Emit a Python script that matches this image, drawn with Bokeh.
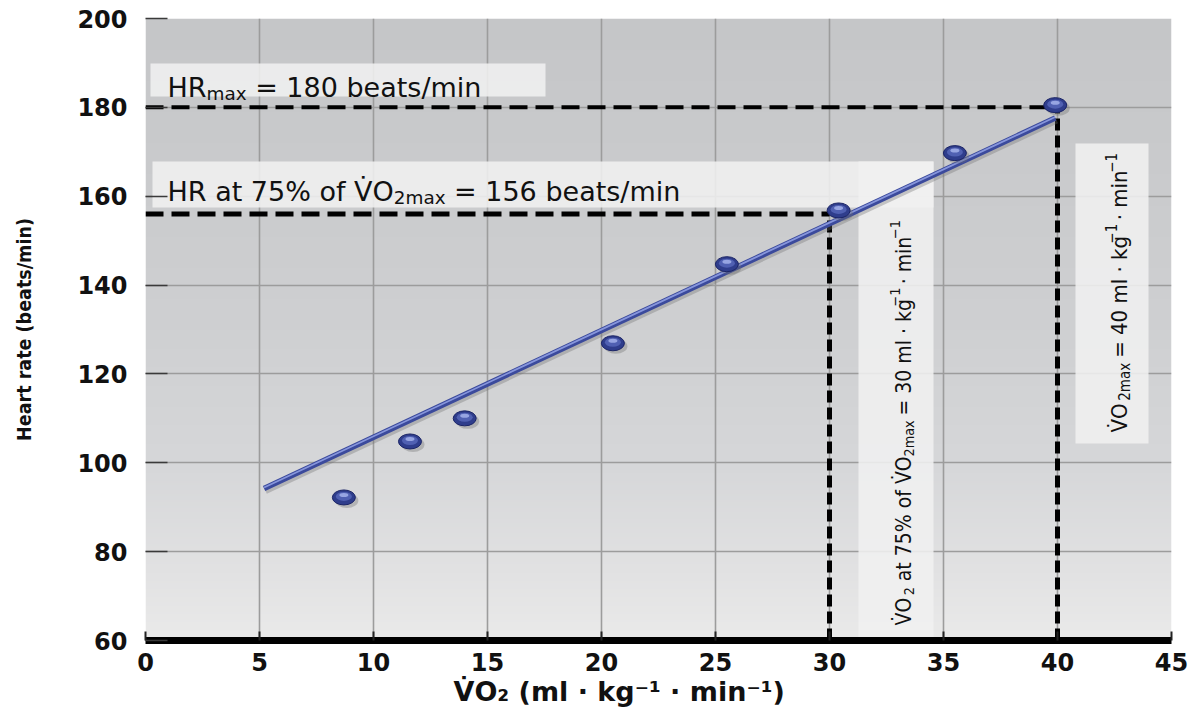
import numpy as np
from bokeh.plotting import figure
from bokeh.models import Range1d, FixedTicker, Label, Title
from bokeh.embed import file_html
from bokeh.resources import INLINE

# ---------------------------------------------------------------- data
vo2 = [8.7, 11.6, 14.0, 20.5, 25.5, 30.4, 35.5, 39.9]                  # ml·kg-1·min-1
heart_rate = [92.2, 104.8, 110.0, 126.9, 144.7, 156.8, 169.7, 180.5]   # beats/min
fit_vo2 = [5.2, 39.9]
fit_hr = [94.2, 177.6]
hr_max = 180
vo2_max = 40
hr_75 = 156
vo2_75 = 30
x_ticks = [0, 5, 10, 15, 20, 25, 30, 35, 40, 45]
y_ticks = [60, 80, 100, 120, 140, 160, 180, 200]

# ---------------------------------------------------------------- canvas geometry
W, H = 1197, 708
LEFT, RIGHT, TOP, BOTTOM = 145, 26, 18, 68
X0, X1 = x_ticks[0], x_ticks[-1]
Y0, Y1 = y_ticks[0], y_ticks[-1]
XS = (W - LEFT - RIGHT) / (X1 - X0)   # px per x unit
YS = (H - TOP - BOTTOM) / (Y1 - Y0)   # px per y unit


def dx(px):
    """canvas pixel column -> data x"""
    return X0 + (px - LEFT) / XS


def dy(py):
    """canvas pixel row (from top) -> data y"""
    return Y0 + (H - BOTTOM - py) / YS


INK = "#111111"
NB = "\u00a0"          # non-breaking space keeps edge spaces in svg text
COND = "'DejaVu Sans Condensed', 'Liberation Sans', sans-serif"

p = figure(width=W, height=H, x_range=Range1d(X0, X1), y_range=Range1d(Y0, Y1),
           min_border_left=LEFT, min_border_right=RIGHT,
           min_border_top=TOP, min_border_bottom=BOTTOM,
           output_backend="svg", toolbar_location=None)
p.outline_line_color = None
p.background_fill_color = "white"
p.border_fill_color = "white"

# ---------------------------------------------------------------- shaded backdrop
stop_y = [Y0, 75, 100, 130, Y1]
stop_rgb = [(234, 234, 234), (226, 226, 227), (214, 215, 217), (207, 208, 210), (197, 198, 200)]
rows = np.linspace(Y0, Y1, 300)
img = np.empty((rows.size, 1), dtype=np.uint32)
view = img.view(dtype=np.uint8).reshape((rows.size, 1, 4))
for k in range(3):
    view[:, 0, k] = np.interp(rows, stop_y, [c[k] for c in stop_rgb]).astype(np.uint8)
view[:, 0, 3] = 255
p.image_rgba(image=[img], x=X0, y=Y0, dw=X1 - X0, dh=Y1 - Y0, level="image")

# ---------------------------------------------------------------- grid and axes
p.xgrid.ticker = FixedTicker(ticks=x_ticks[1:-1])
p.ygrid.ticker = FixedTicker(ticks=y_ticks[1:-1])
for g in (p.xgrid, p.ygrid):
    g.grid_line_color = "#9c9c9c"
    g.grid_line_width = 1.6

xa = p.xaxis[0]
xa.ticker = FixedTicker(ticks=x_ticks)
xa.axis_line_color = "black"
xa.axis_line_width = 7
xa.major_tick_in = 9
xa.major_tick_out = 0
xa.major_tick_line_width = 2
xa.major_tick_line_color = "#222222"
xa.minor_tick_line_color = None
xa.major_label_standoff = 12

ya = p.yaxis[0]
ya.ticker = FixedTicker(ticks=y_ticks)
ya.axis_line_color = None
ya.major_tick_in = 22
ya.major_tick_out = 0
ya.major_tick_line_width = 1.5
ya.major_tick_line_color = "#3a3a3a"
ya.minor_tick_line_color = None
ya.major_label_standoff = 18
ya.axis_label = "Heart rate (beats/min)"
ya.axis_label_text_font = COND
ya.axis_label_text_font_size = "19.5px"
ya.axis_label_text_font_style = "bold"
ya.axis_label_text_color = INK
ya.axis_label_standoff = 38

for ax in (xa, ya):
    ax.major_label_text_font = "DejaVu Sans"
    ax.major_label_text_font_size = "24px"
    ax.major_label_text_font_style = "bold"
    ax.major_label_text_color = INK

# x-axis title with sub/superscripts, set off-centre to the left like the figure
xtitle = "V\u0307O\u2082 (ml · kg\u207b\u00b9 · min\u207b\u00b9)"
p.add_layout(Title(text=xtitle, align="left", offset=308, standoff=0,
                   text_font="DejaVu Sans", text_font_size="27px",
                   text_font_style="bold", text_color=INK), "below")

# ---------------------------------------------------------------- annotation panels
BOX = "#f0f0f0"
panels = [  # left, right, top, bottom in canvas pixels
    (150, 545, 63, 96),
    (152, 933, 161, 207),
    (858, 933, 161, H - BOTTOM),
    (1075, 1148, 143, 443),
]
p.quad(left=[dx(a) for a, b, c, d in panels], right=[dx(b) for a, b, c, d in panels],
       top=[dy(c) for a, b, c, d in panels], bottom=[dy(d) for a, b, c, d in panels],
       fill_color=BOX, fill_alpha=0.88, line_color=None)

# ---------------------------------------------------------------- reference lines
p.line([X0, vo2_max], [hr_max, hr_max], line_color="black", line_width=4, line_dash="18 8")
p.line([vo2_max, vo2_max], [Y0, hr_max], line_color="black", line_width=5, line_dash="12 5")
p.line([X0, vo2_75], [hr_75, hr_75], line_color="black", line_width=5, line_dash="18 8")
p.line([vo2_75, vo2_75], [Y0, hr_75], line_color="black", line_width=5, line_dash="12 5")

# ---------------------------------------------------------------- regression line (tube look)
p.line([v + 1.5 / XS for v in fit_vo2], [h - 2.5 / YS for h in fit_hr],
       line_color="#707070", line_alpha=0.35, line_width=6)
p.line(fit_vo2, fit_hr, line_color="#3b4a9c", line_width=5.5)
p.line(fit_vo2, [h + 1.0 / YS for h in fit_hr], line_color="#8796dc", line_width=1.8)

# ---------------------------------------------------------------- data points (shaded beads)
p.ellipse([v + 3 / XS for v in vo2], [h - 3 / YS for h in heart_rate],
          width=23, height=15, width_units="screen", height_units="screen",
          fill_color="#6e6e6e", fill_alpha=0.35, line_color=None)
p.ellipse(vo2, heart_rate, width=23, height=15, width_units="screen", height_units="screen",
          fill_color="#2f3d8c", line_color="#1c2566", line_width=1)
p.ellipse(vo2, [h + 1 / YS for h in heart_rate], width=16, height=9,
          width_units="screen", height_units="screen", fill_color="#5060b2", line_color=None)
p.ellipse(vo2, [h + 2.5 / YS for h in heart_rate], width=9, height=4,
          width_units="screen", height_units="screen", fill_color="#97a5e2", line_color=None)

# ---------------------------------------------------------------- rich text helpers
DEJAVU = {' ': .318, NB: .318, '=': .838, 'H': .752, 'R': .695, 'a': .613, 'b': .635,
          'e': .615, 't': .392, 's': .521, '/': .337, 'm': .974, 'i': .278, 'n': .634,
          'x': .592, '%': .950, 'o': .612, 'f': .352, 'V': .684, 'O': .787, '\u0307': 0.0}
DEJAVU.update({d: .636 for d in "0123456789"})
ARIAL = {' ': .278, NB: .278, 'V': .667, 'O': .778, 'a': .556, 't': .278, '%': .889,
         'o': .556, 'f': .278, 'm': .833, 'x': .5, '=': .584, 'l': .222, '·': .278,
         'k': .5, 'g': .556, '−': .584, 'i': .222, 'n': .556, '\u0307': 0.0}
ARIAL.update({d: .556 for d in "0123456789"})

SUB = 0.68


def rich(parts, start, base, size, font, widths, vertical=False):
    """lay out text runs with sub/superscripts; start/base in canvas pixels"""
    pos = start
    for text, kind in parts:
        s = size if kind == "" else size * SUB
        shift = {"": 0.0, "sub": 0.24 * size, "sup": -0.40 * size}[kind]
        if vertical:
            x, y, ang = dx(base + shift), dy(pos), np.pi / 2
        else:
            x, y, ang = dx(pos), dy(base + shift), 0.0
        shown = text.replace(" ", NB) if text[0] == " " or text[-1] == " " else text
        p.add_layout(Label(x=x, y=y, text=shown, angle=ang, text_font=font,
                           text_font_size=f"{s:.1f}px", text_font_style="normal",
                           text_color=INK, text_align="left", text_baseline="alphabetic"))
        w = sum(widths.get(ch, 0.55) for ch in text) * s
        pos = pos - w if vertical else pos + w


VDOT = "V\u0307"

rich([("HR", ""), ("max", "sub"), (f" = {hr_max} beats/min", "")],
     167, 87, 27, "DejaVu Sans", DEJAVU)
rich([(f"HR at 75% of {VDOT}O", ""), ("2max", "sub"), (f" = {hr_75} beats/min", "")],
     167, 191, 27, "DejaVu Sans", DEJAVU)

rich([(f"{VDOT}O", ""), ("2", "sub"), (f" at 75% of {VDOT}O", ""), ("2max", "sub"),
      (f" = {vo2_75} ml · kg", ""), ("−1", "sup"), (" · min", ""), ("−1", "sup")],
     625, 903, 21, COND, ARIAL, vertical=True)
rich([(f"{VDOT}O", ""), ("2max", "sub"), (f" = {vo2_max} ml · kg", ""), ("−1", "sup"),
      (" · min", ""), ("−1", "sup")],
     432, 1119, 22, COND, ARIAL, vertical=True)

open("out.html", "w").write(file_html(p, INLINE))
